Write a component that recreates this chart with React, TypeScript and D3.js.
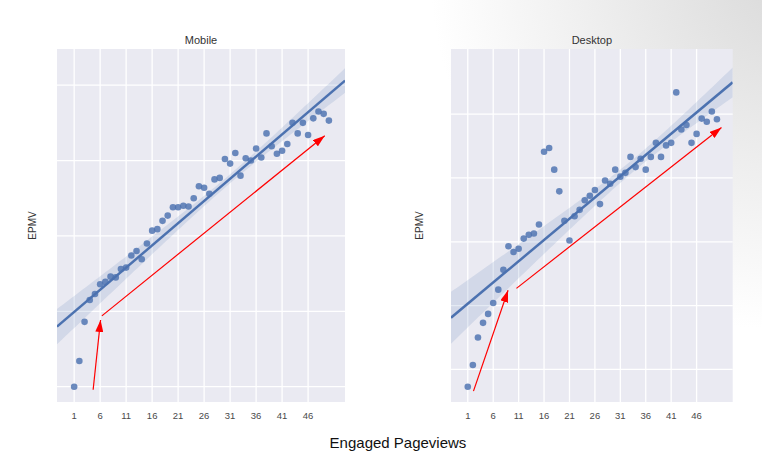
import { useEffect, useRef } from 'react';
import * as d3 from 'd3';

// x categories: number of engaged pageviews
const pageviews = [
  1, 2, 3, 4, 5, 6, 7, 8, 9, 10, 11, 12, 13, 14, 15, 16, 17, 18, 19, 20, 21, 22, 23, 24, 25,
  26, 27, 28, 29, 30, 31, 32, 33, 34, 35, 36, 37, 38, 39, 40, 41, 42, 43, 44, 45, 46, 47, 48, 49, 50,
];

// EPMV per pageview bucket (in gridline units, labels are hidden in the source)
const mobileEpmv = [
  0.0, 0.34, 0.86, 1.15, 1.23, 1.36, 1.39, 1.46, 1.45, 1.56,
  1.58, 1.74, 1.8, 1.69, 1.9, 2.07, 2.09, 2.2, 2.27, 2.38,
  2.38, 2.4, 2.39, 2.5, 2.66, 2.64, 2.56, 2.75, 2.77, 3.02,
  2.96, 3.1, 2.8, 3.03, 3.0, 3.16, 3.04, 3.36, 3.19, 3.09,
  3.13, 3.22, 3.5, 3.36, 3.5, 3.34, 3.56, 3.65, 3.62, 3.53,
];

const desktopEpmv = [
  0.73, 1.07, 1.5, 1.73, 1.87, 2.04, 2.25, 2.56, 2.93, 2.84,
  2.89, 3.05, 3.11, 3.13, 3.27, 4.41, 4.47, 4.13, 3.79, 3.33,
  3.02, 3.4, 3.5, 3.65, 3.72, 3.81, 3.59, 3.96, 3.91, 4.13,
  4.02, 4.08, 4.33, 4.17, 4.3, 4.13, 4.33, 4.55, 4.33, 4.51,
  4.55, 5.34, 4.76, 4.83, 4.55, 4.69, 4.93, 4.88, 5.04, 4.92,
];

const xTicks = [1, 6, 11, 16, 21, 26, 31, 36, 41, 46];
const mobileGrid = [0, 1, 2, 3, 4];
const desktopGrid = [1, 2, 3, 4, 5];

// red annotation arrows, [x0, y0, x1, y1] in data units
const mobileArrows = [
  [4.65, -0.04, 6.08, 0.885],
  [6.33, 0.94, 49.2, 3.33],
];
const desktopArrows = [
  [2.12, 0.66, 8.92, 2.24],
  [10.57, 2.27, 50.9, 4.79],
];

const W = 762, H = 473;
const BLUE = '#4C72B0';

interface Panel {
  title: string;
  values: number[];
  grid: number[];
  yDomain: [number, number];
  arrows: number[][];
  left: number;
  right: number;
  labelX: number;
}

const panels: Panel[] = [
  { title: 'Mobile', values: mobileEpmv, grid: mobileGrid, yDomain: [-0.203, 4.48], arrows: mobileArrows, left: 57, right: 345, labelX: 32 },
  { title: 'Desktop', values: desktopEpmv, grid: desktopGrid, yDomain: [0.49, 6.02], arrows: desktopArrows, left: 451, right: 732.7, labelX: 419 },
];

// OLS fit with a robust (HC3) band, close to seaborn's bootstrap look
function fit(xs: number[], ys: number[]) {
  const n = xs.length;
  const xbar = d3.mean(xs)!, ybar = d3.mean(ys)!;
  const sxx = d3.sum(xs, x => (x - xbar) ** 2);
  const b = d3.sum(xs, (x, i) => (x - xbar) * (ys[i] - ybar)) / sxx;
  const a = ybar;
  let m00 = 0, m01 = 0, m11 = 0;
  xs.forEach((x, i) => {
    const xc = x - xbar;
    const e = ys[i] - (a + b * xc);
    const h = 1 / n + xc * xc / sxx;
    const w = (e * e) / ((1 - h) ** 2);
    m00 += w; m01 += w * xc; m11 += w * xc * xc;
  });
  const va = m00 / (n * n), vb = m11 / (sxx * sxx), cab = m01 / (n * sxx);
  const predict = (x: number) => a + b * (x - xbar);
  const se = (x: number) => {
    const d = x - xbar;
    return Math.sqrt(va + 2 * d * cab + d * d * vb);
  };
  return { predict, se };
}

export default function App() {
  const svgRef = useRef<SVGSVGElement>(null);

  useEffect(() => {
    if (!svgRef.current) return;
    const svg = d3.select(svgRef.current);
    svg.selectAll('*').remove();

    const defs = svg.append('defs');
    const bg = defs.append('radialGradient').attr('id', 'slideBg')
      .attr('gradientUnits', 'userSpaceOnUse').attr('cx', 790).attr('cy', -30).attr('r', 360);
    bg.append('stop').attr('offset', '0%').attr('stop-color', '#d9d9d9');
    bg.append('stop').attr('offset', '55%').attr('stop-color', '#eeeeee');
    bg.append('stop').attr('offset', '100%').attr('stop-color', '#ffffff');
    svg.append('rect').attr('width', W).attr('height', H).attr('fill', 'url(#slideBg)');

    const head = defs.append('marker').attr('id', 'redHead')
      .attr('viewBox', '0 0 12 8').attr('refX', 12).attr('refY', 4)
      .attr('markerWidth', 12).attr('markerHeight', 8).attr('markerUnits', 'userSpaceOnUse')
      .attr('orient', 'auto');
    head.append('path').attr('d', 'M0,0 L12,4 L0,8 Z').attr('fill', 'red');

    const top = 49, bottom = 402;
    const xDomain: [number, number] = [-2.3, 53.1];

    panels.forEach(p => {
      const x = d3.scaleLinear().domain(xDomain).range([p.left, p.right]);
      const y = d3.scaleLinear().domain(p.yDomain).range([bottom, top]);
      const g = svg.append('g');

      g.append('rect').attr('x', p.left).attr('y', top)
        .attr('width', p.right - p.left).attr('height', bottom - top).attr('fill', '#EAEAF2');

      g.selectAll('.vg').data(xTicks).enter().append('line')
        .attr('x1', d => x(d)).attr('x2', d => x(d)).attr('y1', top).attr('y2', bottom)
        .attr('stroke', 'white').attr('stroke-width', 1.3);
      g.selectAll('.hg').data(p.grid).enter().append('line')
        .attr('x1', p.left).attr('x2', p.right).attr('y1', d => y(d)).attr('y2', d => y(d))
        .attr('stroke', 'white').attr('stroke-width', 1.3);

      g.selectAll('.tick').data(xTicks).enter().append('text')
        .attr('x', d => x(d)).attr('y', 419).attr('text-anchor', 'middle')
        .attr('font-family', 'Liberation Sans, Arial, sans-serif').attr('font-size', 9.5)
        .attr('fill', '#4a4a4a').text(d => d);

      g.append('text').attr('x', (p.left + p.right) / 2).attr('y', 44).attr('text-anchor', 'middle')
        .attr('font-family', 'Liberation Sans, Arial, sans-serif').attr('font-size', 11)
        .attr('fill', '#333').text(p.title);

      g.append('text').attr('transform', `translate(${p.labelX + 3.5},${(top + bottom) / 2}) rotate(-90)`)
        .attr('text-anchor', 'middle')
        .attr('font-family', 'Liberation Sans, Arial, sans-serif').attr('font-size', 10)
        .attr('fill', '#333').text('EPMV');

      const clipId = `clip-${p.title}`;
      defs.append('clipPath').attr('id', clipId).append('rect')
        .attr('x', p.left).attr('y', top).attr('width', p.right - p.left).attr('height', bottom - top);

      const model = fit(pageviews, p.values);
      const grid = d3.range(0, 101).map(i => xDomain[0] + (xDomain[1] - xDomain[0]) * i / 100);
      const band = d3.area<number>()
        .x(d => x(d))
        .y0(d => y(model.predict(d) - 1.96 * model.se(d)))
        .y1(d => y(model.predict(d) + 1.96 * model.se(d)));
      const plot = g.append('g').attr('clip-path', `url(#${clipId})`);
      plot.append('path').datum(grid).attr('d', band).attr('fill', BLUE).attr('opacity', 0.15);
      plot.append('line')
        .attr('x1', x(xDomain[0])).attr('y1', y(model.predict(xDomain[0])))
        .attr('x2', x(xDomain[1])).attr('y2', y(model.predict(xDomain[1])))
        .attr('stroke', BLUE).attr('stroke-width', 2.5);

      plot.selectAll('.pt').data(p.values).enter().append('circle')
        .attr('cx', (_, i) => x(pageviews[i])).attr('cy', d => y(d)).attr('r', 3.3)
        .attr('fill', BLUE).attr('opacity', 0.82);

      g.selectAll('.arrow').data(p.arrows).enter().append('line')
        .attr('x1', d => x(d[0])).attr('y1', d => y(d[1]))
        .attr('x2', d => x(d[2])).attr('y2', d => y(d[3]))
        .attr('stroke', 'red').attr('stroke-width', 1.2).attr('marker-end', 'url(#redHead)');
    });

    svg.append('text').attr('x', 398).attr('y', 448).attr('text-anchor', 'middle')
      .attr('font-family', 'Liberation Sans, Arial, sans-serif').attr('font-size', 15)
      .attr('fill', '#111').text('Engaged Pageviews');
  }, []);

  return (
    <svg ref={svgRef} width={W} height={H} viewBox={`0 0 ${W} ${H}`}
      style={{ position: 'absolute', left: 0, top: 0, display: 'block' }} />
  );
}
